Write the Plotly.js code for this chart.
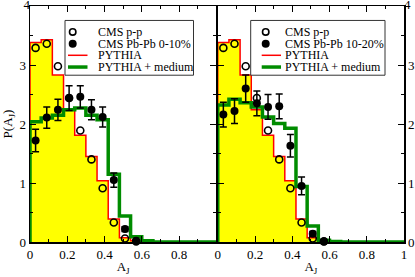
<!DOCTYPE html>
<html>
<head>
<meta charset="utf-8">
<script src="https://cdn.plot.ly/plotly-3.0.1.min.js"></script>
<style>html,body{margin:0;padding:0;background:#fff;}#chart{width:415px;height:277px;}</style>
</head>
<body>
<div id="chart"></div>
<script>
// ---- data ----
const binEdges = [0, 0.06, 0.12, 0.18, 0.24, 0.30, 0.36, 0.42, 0.48, 0.54, 0.60, 0.66];
const binCenters = [0.03, 0.09, 0.15, 0.21, 0.27, 0.33, 0.39, 0.45, 0.51, 0.57];

const pythia = [3.38, 3.43, 2.83, 2.24, 1.81, 1.45, 1.04, 0.39, 0.07, 0.02];
const mediumLeft = [2.04, 2.10, 2.15, 2.24, 2.27, 2.15, 2.07, 1.15, 0.44, 0.09, 0.02];
const mediumRight = [2.32, 2.42, 2.36, 2.29, 2.12, 2.01, 1.93, 0.94, 0.27, 0.03, 0.01];

const cmsPP = [3.29, 3.36, 2.98, 2.44, 1.89, 1.40, 0.91, 0.33, 0.06, 0.01];
const pbpb010 = [1.72, 2.11, 2.24, 2.44, 2.46, 2.24, 2.12, 1.05, 0.22, 0.02];
const pbpb010Err = [0.19, 0.18, 0.18, 0.21, 0.19, 0.17, 0.17, 0.12, 0.04, 0.02];
const pbpb1020 = [2.16, 2.22, 2.60, 2.35, 2.29, 2.30, 1.63, 0.95, 0.14, 0.01];
const pbpb1020Err = [0.21, 0.21, 0.23, 0.21, 0.21, 0.21, 0.19, 0.15, 0.04, 0.02];

const xTickVals = [0, 0.2, 0.4, 0.6, 0.8, 1];
const xTickTextLeft = ['0', '0.2', '0.4', '0.6', '0.8', ''];
const xTickTextRight = ['0', '0.2', '0.4', '0.6', '0.8', '1'];
const yTickVals = [0, 1, 2, 3, 4];
const yTickText = ['0', '1', '2', '3', '4'];
const legendLeft = ['CMS p-p', 'CMS Pb-Pb 0-10%', 'PYTHIA', 'PYTHIA + medium'];
const legendRight = ['CMS p-p', 'CMS Pb-Pb 10-20%', 'PYTHIA', 'PYTHIA + medium'];

// ---- helpers ----
function stepX(vals, tail) {
  const xs = [0];
  for (let i = 0; i <= vals.length; i++) xs.push(binEdges[i]);
  if (tail) xs.push(1);
  return xs;
}
function stepY(vals, tail) {
  const ys = [0].concat(vals, [0]);
  if (tail) ys.push(0);
  return ys;
}

const FONT = 'Liberation Serif, Times New Roman, serif';
const RED = '#ff0000', GREEN = '#008c00', YELLOW = '#ffff00';
const topIdx = yTickVals.length - 1;

function panelTraces(xa, ya, med, pb, pbErr) {
  return [
    {x: stepX(pythia, false), y: stepY(pythia, false), xaxis: xa, yaxis: ya, type: 'scatter', mode: 'lines',
     line: {shape: 'hv', color: RED, width: 1.5}, fill: 'tozeroy', fillcolor: YELLOW, hoverinfo: 'skip'},
    {x: stepX(med, true), y: stepY(med, true), xaxis: xa, yaxis: ya, type: 'scatter', mode: 'lines',
     line: {shape: 'hv', color: GREEN, width: 3.5}, hoverinfo: 'skip'},
    {x: binCenters, y: cmsPP, xaxis: xa, yaxis: ya, type: 'scatter', mode: 'markers', cliponaxis: false,
     marker: {symbol: 'circle-open', size: 7, color: '#000', line: {width: 1.6, color: '#000'}}},
    {x: binCenters, y: pb, xaxis: xa, yaxis: ya, type: 'scatter', mode: 'markers', cliponaxis: false,
     error_y: {type: 'data', array: pbErr, visible: true, color: '#000', thickness: 1.5, width: 3.5},
     marker: {symbol: 'circle', size: 8, color: '#000'}}
  ];
}

const data = [].concat(
  panelTraces('x', 'y', mediumLeft, pbpb010, pbpb010Err),
  panelTraces('x2', 'y2', mediumRight, pbpb1020, pbpb1020Err),
  [
    // top "4" tick labels, placed through the axes at the frame corner
    {x: [0], y: [yTickVals[topIdx]], xaxis: 'x', yaxis: 'y', type: 'scatter', mode: 'text', cliponaxis: false,
     text: [yTickText[topIdx]], textposition: 'middle left', textfont: {family: FONT, size: 13, color: '#000'}, hoverinfo: 'skip'},
    {x: [1], y: [yTickVals[topIdx]], xaxis: 'x2', yaxis: 'y2', type: 'scatter', mode: 'text', cliponaxis: false,
     text: [yTickText[topIdx]], textposition: 'middle right', textfont: {family: FONT, size: 13, color: '#000'}, hoverinfo: 'skip'}
  ]
);

// pixel geometry
const W = 415, H = 277, L = 30, R = 11, T = 5.5, B = 34.5;
const PW = W - L - R, PH = H - T - B;
const px = v => (v - L) / PW;
const py = v => (H - B - v) / PH;

const shapes = [], annotations = [];
function addLegend(box, circX, lineX0, lineX1, textX, labels) {
  shapes.push({type: 'rect', xref: 'paper', yref: 'paper', x0: px(box[0]), x1: px(box[1]), y0: py(box[2]), y1: py(box[3]),
    line: {color: '#333', width: 1}, fillcolor: '#fff', layer: 'above'});
  const rows = [31.5, 43.3, 55, 66.8];
  shapes.push({type: 'circle', xref: 'paper', yref: 'paper', xsizemode: 'pixel', ysizemode: 'pixel',
    xanchor: px(circX), yanchor: py(rows[0]), x0: -3.2, x1: 3.2, y0: -3.2, y1: 3.2, line: {color: '#000', width: 1.6}, layer: 'above'});
  shapes.push({type: 'circle', xref: 'paper', yref: 'paper', xsizemode: 'pixel', ysizemode: 'pixel',
    xanchor: px(circX), yanchor: py(rows[1]), x0: -4, x1: 4, y0: -4, y1: 4, line: {color: '#000', width: 0}, fillcolor: '#000', layer: 'above'});
  shapes.push({type: 'line', xref: 'paper', yref: 'paper', x0: px(lineX0), x1: px(lineX1), y0: py(rows[2]), y1: py(rows[2]),
    line: {color: RED, width: 1.5}, layer: 'above'});
  shapes.push({type: 'line', xref: 'paper', yref: 'paper', x0: px(lineX0), x1: px(lineX1), y0: py(rows[3]), y1: py(rows[3]),
    line: {color: GREEN, width: 3.5}, layer: 'above'});
  labels.forEach((t, i) => annotations.push({xref: 'paper', yref: 'paper', x: px(textX), y: py(rows[i]),
    xanchor: 'left', yanchor: 'middle', text: t, showarrow: false, font: {family: FONT, size: 12, color: '#000'}}));
}
addLegend([65, 193.5, 20, 75], 72.7, 68, 87.5, 95.5, legendLeft);
addLegend([250.7, 385, 20, 75], 265.7, 261.7, 281, 282.5, legendRight);

const axisCommon = {
  range: [0, 1], showline: true, linecolor: '#000', linewidth: 1.5, mirror: 'ticks',
  ticks: 'inside', ticklen: 6, tickwidth: 1, tickcolor: '#000', showgrid: false, zeroline: false,
  tickfont: {family: FONT, size: 13, color: '#000'},
  minor: {ticks: 'inside', ticklen: 3, tickwidth: 1, tickcolor: '#000', dtick: 0.1, showgrid: false},
  tickmode: 'array', tickvals: xTickVals, fixedrange: true
};
const yCommon = {
  range: [0, 4], showline: true, linecolor: '#000', linewidth: 1.5, mirror: 'ticks',
  ticks: 'inside', ticklen: 6, tickwidth: 1, tickcolor: '#000', showgrid: false, zeroline: false,
  tickfont: {family: FONT, size: 13, color: '#000'},
  minor: {ticks: 'inside', ticklen: 3, tickwidth: 1, tickcolor: '#000', dtick: 0.5, showgrid: false},
  tickmode: 'array', tickvals: yTickVals, ticktext: yTickText.slice(0, topIdx).concat(['']), fixedrange: true
};

const leftEnd = px(216.25), rightStart = px(217.75);

const layout = {
  width: W, height: H, margin: {l: L, r: R, t: T, b: B}, showlegend: false,
  paper_bgcolor: '#fff', plot_bgcolor: 'rgba(0,0,0,0)',
  font: {family: FONT, size: 13, color: '#000'},
  xaxis: Object.assign({}, axisCommon, {domain: [0, leftEnd], anchor: 'y', ticktext: xTickTextLeft,
    title: {text: 'A<sub>J</sub>', font: {family: FONT, size: 13}, standoff: 1}}),
  xaxis2: Object.assign({}, axisCommon, {domain: [rightStart, 1], anchor: 'y2', ticktext: xTickTextRight,
    title: {text: 'A<sub>J</sub>', font: {family: FONT, size: 13}, standoff: 1}}),
  yaxis: Object.assign({}, yCommon, {domain: [0, 1], anchor: 'x',
    title: {text: 'P(A<sub>J</sub>)', font: {family: FONT, size: 13}, standoff: 6}}),
  yaxis2: Object.assign({}, yCommon, {domain: [0, 1], anchor: 'x2', side: 'right'}),
  shapes: shapes, annotations: annotations
};

Plotly.newPlot('chart', data, layout, {staticPlot: true, displayModeBar: false});
</script>
</body>
</html>
